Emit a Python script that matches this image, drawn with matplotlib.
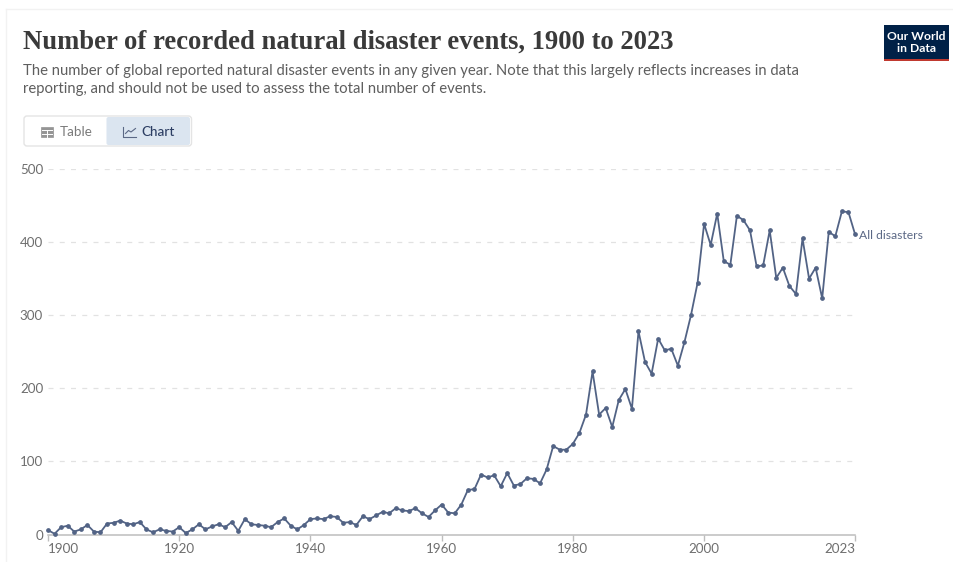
import matplotlib
matplotlib.use("Agg")
import matplotlib.pyplot as plt
import numpy as np
from matplotlib.patches import FancyBboxPatch, Rectangle

WIDTH, HEIGHT = 954, 562
INK = "#5e5e5e"
LINE_COLOR = "#526385"
LABEL_COLOR = "#5b6885"

years = list(range(1900, 2024))
disasters = [
    6, 1, 10, 12, 4, 7, 13, 4, 3, 15,
    16, 19, 15, 14, 17, 7, 3, 7, 5, 4,
    10, 2, 7, 14, 7, 11, 14, 10, 17, 5,
    21, 14, 13, 12, 10, 17, 22, 12, 7, 13,
    21, 22, 21, 25, 24, 16, 17, 13, 25, 21,
    26, 31, 29, 36, 33, 32, 36, 29, 24, 33,
    41, 30, 29, 41, 61, 62, 82, 78, 81, 66,
    84, 67, 69, 77, 76, 70, 89, 121, 116, 116,
    124, 139, 164, 223, 164, 173, 147, 184, 199, 172,
    278, 236, 220, 268, 252, 254, 231, 263, 300, 344,
    425, 396, 439, 374, 369, 436, 430, 416, 367, 368,
    416, 351, 365, 340, 329, 405, 350, 365, 323, 414,
    408, 442, 441, 411,
]
y_ticks = [0, 100, 200, 300, 400, 500]
x_ticks = [1900, 1920, 1940, 1960, 1980, 2000, 2023]

TITLE = "Number of recorded natural disaster events, 1900 to 2023"
SUBTITLE = [
    "The number of global reported natural disaster events in any given year. Note that this largely reflects increases in data",
    "reporting, and should not be used to assess the total number of events.",
]

plt.rcParams["font.family"] = ["Lato", "DejaVu Sans"]

fig = plt.figure(figsize=(WIDTH / 100, HEIGHT / 100), dpi=100, facecolor="white")

# page furniture is laid out in pixels on a full-size overlay
ui = fig.add_axes([0, 0, 1, 1], zorder=0)
ui.set_xlim(0, WIDTH)
ui.set_ylim(HEIGHT, 0)
ui.axis("off")

ui.plot([6, 6], [9, HEIGHT], color="#f2f2f2", lw=1)
ui.plot([6, WIDTH], [9, 9], color="#f2f2f2", lw=1)

ui.text(23, 42.5, TITLE, family="Liberation Serif", weight="bold", fontsize=19.2,
        color="#3a3a3a", va="center")
ui.text(23, 70.5, SUBTITLE[0], fontsize=10.75, color=INK, va="center")
ui.text(23, 89, SUBTITLE[1], fontsize=10.75, color=INK, va="center")

ui.add_patch(Rectangle((884, 25), 65, 33.5, color="#002147", lw=0))
ui.add_patch(Rectangle((884, 58.5), 65, 2.8, color="#c0392f", lw=0))
ui.text(916.5, 36, "Our World", color="white", fontsize=8.7, weight="bold", ha="center", va="center")
ui.text(916.5, 48, "in Data", color="white", fontsize=8.7, weight="bold", ha="center", va="center")

ui.add_patch(FancyBboxPatch((24, 116), 167.5, 30, boxstyle="round,pad=0,rounding_size=3",
                            fc="white", ec="#e4e4e4", lw=1))
ui.add_patch(FancyBboxPatch((106.5, 117), 83.5, 28, boxstyle="round,pad=0,rounding_size=2",
                            fc="#dbe5f0", ec="none"))
ui.add_patch(Rectangle((41.5, 127), 12, 10, fc="#959595", ec="#959595", lw=0.5))
ui.plot([42.5, 52.5], [130, 130], color="white", lw=0.7)
ui.plot([42.5, 52.5], [133.5, 133.5], color="white", lw=0.7)
ui.plot([47.5, 47.5], [130, 136.5], color="white", lw=0.7)
ui.text(60, 131.5, "Table", fontsize=9.7, color="#7a7a7a", va="center")
ui.plot([123.5, 123.5, 136], [126.5, 136.5, 136.5], color="#5b6885", lw=0.8)
ui.plot([125.5, 128.5, 131, 135.5], [133.5, 130.5, 132, 128.5], color="#5b6885", lw=0.8)
ui.text(141.5, 131.5, "Chart", fontsize=9.7, color="#2c3e63", weight="medium", va="center")

# plot area: 1900-2023 spans 48-855 px, 0-500 spans 534.5-169 px
left, right, bottom, top = 48, 855, 534.5, 169
ax = fig.add_axes([left / WIDTH, 1 - bottom / HEIGHT, (right - left) / WIDTH, (bottom - top) / HEIGHT],
                  zorder=1)
ax.patch.set_alpha(0)
ax.set_xlim(1900, 2023)
ax.set_ylim(0, 500)
for side in ["top", "right", "left"]:
    ax.spines[side].set_visible(False)
ax.spines["bottom"].set_color("#bdbdbd")
ax.spines["bottom"].set_linewidth(1.1)

for value in y_ticks[1:]:
    ax.axhline(value, color="#e2e2e2", lw=0.9, dashes=(4, 5), zorder=1)

ax.plot(years, disasters, color=LINE_COLOR, lw=1.3, marker="o", ms=2.4, clip_on=False, zorder=3)

ax.set_yticks(y_ticks)
ax.set_yticklabels([str(v) for v in y_ticks])
ax.tick_params(axis="y", length=0, pad=3.5, labelsize=9.6, labelcolor="#6e6e6e")
ax.set_xticks(x_ticks)
ax.set_xticklabels([str(v) for v in x_ticks])
ax.tick_params(axis="x", length=4.5, width=1, color="#bdbdbd", pad=1.5, labelsize=9.6, labelcolor="#6e6e6e")
xlabels = ax.get_xticklabels()
xlabels[0].set_ha("left")
xlabels[-1].set_ha("right")

ax.annotate("All disasters", xy=(years[-1], disasters[-1]), xytext=(3, -0.7), textcoords="offset points",
            fontsize=8.7, color=LABEL_COLOR, va="center", annotation_clip=False)

fig.savefig("out.png", dpi=100)
